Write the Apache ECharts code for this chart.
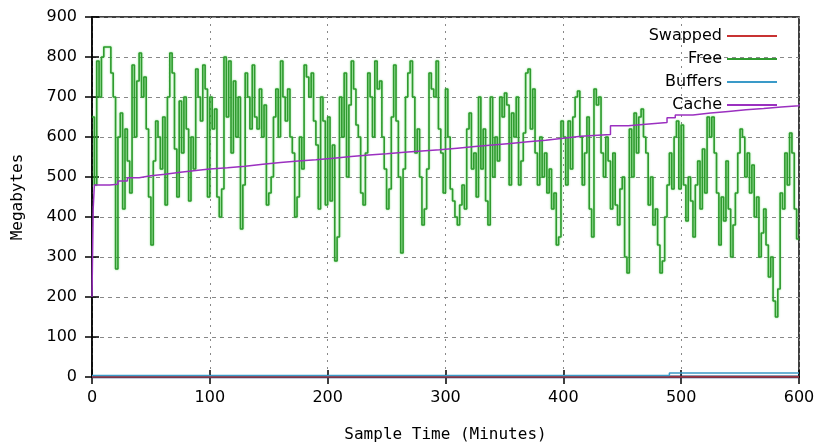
<!DOCTYPE html>
<html>
<head>
<meta charset="utf-8">
<script src="https://cdn.jsdelivr.net/npm/echarts@6/dist/echarts.min.js"></script>
<style>
  html, body { margin: 0; padding: 0; background: #fff; }
  #chart { width: 824px; height: 445px; }
</style>
</head>
<body>
<div id="chart"></div>
<script>
// sample step of the Free series, in minutes
const freeStep = 2;
// Free memory (MB), one value every 2 minutes from 0 to 600
const freeValues = [
  650, 480, 790, 700, 800,   825, 825, 825, 760, 700,
  270, 600, 660, 420, 620,   540, 460, 780, 600, 740,
  810, 700, 750, 620, 450,   330, 540, 640, 600, 520,
  650, 430, 700, 810, 760,   570, 450, 690, 560, 700,
  620, 440, 600, 520, 770,   700, 640, 780, 720, 450,
  700, 620, 670, 450, 400,   470, 800, 650, 790, 560,
  740, 600, 700, 370, 480,   760, 700, 620, 780, 650,
  620, 720, 600, 680, 430,   460, 500, 650, 720, 600,
  790, 700, 640, 720, 600,   560, 400, 450, 600, 520,
  780, 750, 700, 760, 640,   580, 420, 700, 640, 430,
  650, 440, 580, 290, 350,   700, 600, 760, 500, 680,
  790, 720, 630, 600, 460,   430, 560, 760, 700, 600,
  790, 720, 740, 600, 520,   420, 470, 650, 780, 640,
  500, 310, 520, 700, 760,   790, 700, 560, 620, 500,
  380, 420, 520, 760, 720,   700, 790, 620, 560, 460,
  720, 600, 470, 440, 400,   380, 430, 480, 420, 620,
  660, 520, 560, 450, 700,   520, 620, 440, 380, 700,
  500, 600, 540, 700, 650,   710, 680, 480, 660, 600,
  700, 480, 540, 610, 760,   770, 620, 720, 560, 480,
  600, 500, 560, 460, 520,   420, 460, 330, 350, 640,
  600, 480, 640, 520, 650,   700, 715, 600, 480, 560,
  650, 420, 350, 720, 680,   700, 560, 500, 600, 540,
  420, 560, 430, 380, 470,   500, 300, 260, 620, 500,
  660, 560, 650, 670, 600,   560, 430, 500, 380, 420,
  330, 260, 290, 400, 480,   560, 470, 600, 640, 470,
  630, 480, 390, 500, 440,   350, 480, 540, 420, 570,
  460, 650, 600, 650, 560,   460, 330, 450, 390, 540,
  420, 300, 380, 460, 560,   620, 600, 500, 560, 460,
  530, 400, 450, 300, 360,   420, 330, 250, 300, 190,
  150, 220, 460, 420, 560,   480, 610, 560, 420, 345,
  345
];

// Cache (MB), step points
const cacheMinutes = [0, 1, 2, 15, 22, 30, 40, 50, 62, 75, 90, 100, 115, 130, 145, 160, 175, 190,
  205, 220, 235, 250, 265, 280, 295, 310, 325, 340, 355, 370, 385, 400, 415, 440, 455, 470,
  488, 495, 510, 525, 540, 555, 570, 585, 600];
const cacheValues = [200, 420, 480, 482, 490, 498, 503, 507, 512, 517, 520, 523, 527, 532, 536, 540, 543, 547,
  551, 555, 558, 562, 565, 568, 572, 576, 580, 584, 588, 592, 597, 602, 606, 628, 632, 636,
  648, 655, 660, 664, 668, 671, 675, 678, 682];

// Buffers (MB)
const bufferMinutes = [0, 488, 490, 600];
const bufferValues = [4, 4, 10, 10];

// Swapped (MB)
const swapMinutes = [0, 600];
const swapValues = [0, 0];

const xTicks = [0, 100, 200, 300, 400, 500, 600];
const yTicks = [0, 100, 200, 300, 400, 500, 600, 700, 800, 900];

const pairs = (xs, ys) => xs.map((x, i) => [x, ys[i]]);
const freeData = freeValues.map((v, i) => [i * freeStep, v]);

const chart = echarts.init(document.getElementById('chart'));

const labelFont = { fontFamily: 'DejaVu Sans', fontSize: 16, color: '#000' };
const nameFont = { fontFamily: 'DejaVu Sans Mono', fontSize: 16, color: '#000' };

chart.setOption({
    animation: false,
    backgroundColor: '#fff',
    grid: {
        left: 92, right: 25, top: 17, bottom: 68,
        outerBoundsMode: 'none', containLabel: false,
        show: true, borderColor: '#000', borderWidth: 1.5
    },
    legend: {
        right: 42, top: 23,
        orient: 'vertical',
        align: 'right',
        itemWidth: 50, itemHeight: 2, itemGap: 7,
        icon: 'rect',
        textStyle: { fontFamily: 'DejaVu Sans', fontSize: 16, color: '#000' },
        data: ['Swapped', 'Free', 'Buffers', 'Cache']
    },
    xAxis: [{
        type: 'value', min: xTicks[0], max: xTicks[xTicks.length - 1], interval: 100,
        name: 'Sample Time (Minutes)', nameLocation: 'middle', nameGap: 50,
        nameTextStyle: nameFont,
        axisLine: { show: true, lineStyle: { color: '#000', width: 1.5 } },
        axisTick: { inside: true, length: 7, lineStyle: { color: '#000', width: 1.5 } },
        axisLabel: Object.assign({ margin: 13 }, labelFont),
        splitLine: { show: true, lineStyle: { color: '#888', type: [2, 5], width: 1 } }
    }, {
        type: 'value', min: 0, max: 600, interval: 100, position: 'top',
        axisLine: { show: false },
        axisTick: { inside: true, length: 7, lineStyle: { color: '#000', width: 1.5 } },
        axisLabel: { show: false },
        splitLine: { show: false }
    }],
    yAxis: [{
        type: 'value', min: yTicks[0], max: yTicks[yTicks.length - 1], interval: 100,
        name: 'Megabytes', nameLocation: 'middle', nameGap: 66, nameRotate: 90,
        nameTextStyle: nameFont,
        axisLine: { show: true, lineStyle: { color: '#000', width: 1.5 } },
        axisTick: { inside: true, length: 7, lineStyle: { color: '#000', width: 1.5 } },
        axisLabel: Object.assign({ margin: 15 }, labelFont),
        splitLine: { show: true, lineStyle: { color: '#888', type: [4, 4], width: 1 } }
    }, {
        type: 'value', min: 0, max: 900, interval: 100, position: 'right',
        axisLine: { show: false },
        axisTick: { inside: true, length: 7, lineStyle: { color: '#000', width: 1.5 } },
        axisLabel: { show: false },
        splitLine: { show: false }
    }],
    series: [
        {
            name: 'Swapped', type: 'line', step: 'end', showSymbol: false,
            data: pairs(swapMinutes, swapValues),
            lineStyle: { color: '#c83232', width: 1.5 }, itemStyle: { color: '#c83232' }
        },
        {
            name: 'Free', type: 'line', step: 'end', showSymbol: false,
            data: freeData,
            lineStyle: { color: '#2f9a2f', width: 1.6, shadowColor: 'rgba(0,200,0,0.5)', shadowBlur: 2 },
            itemStyle: { color: '#2f9a2f' }
        },
        {
            name: 'Buffers', type: 'line', step: 'end', showSymbol: false,
            data: pairs(bufferMinutes, bufferValues),
            lineStyle: { color: '#3a9ac8', width: 1.5 }, itemStyle: { color: '#3a9ac8' }
        },
        {
            name: 'Cache', type: 'line', step: 'end', showSymbol: false,
            data: pairs(cacheMinutes, cacheValues),
            lineStyle: { color: '#9b30c0', width: 1.5 }, itemStyle: { color: '#9b30c0' }
        },
        {
            // dark base line along zero, as drawn in the original
            type: 'line', showSymbol: false, silent: true,
            data: pairs(swapMinutes, swapValues),
            lineStyle: { color: '#1a3a6a', width: 3 }, z: 1
        }
    ]
});
</script>
</body>
</html>
